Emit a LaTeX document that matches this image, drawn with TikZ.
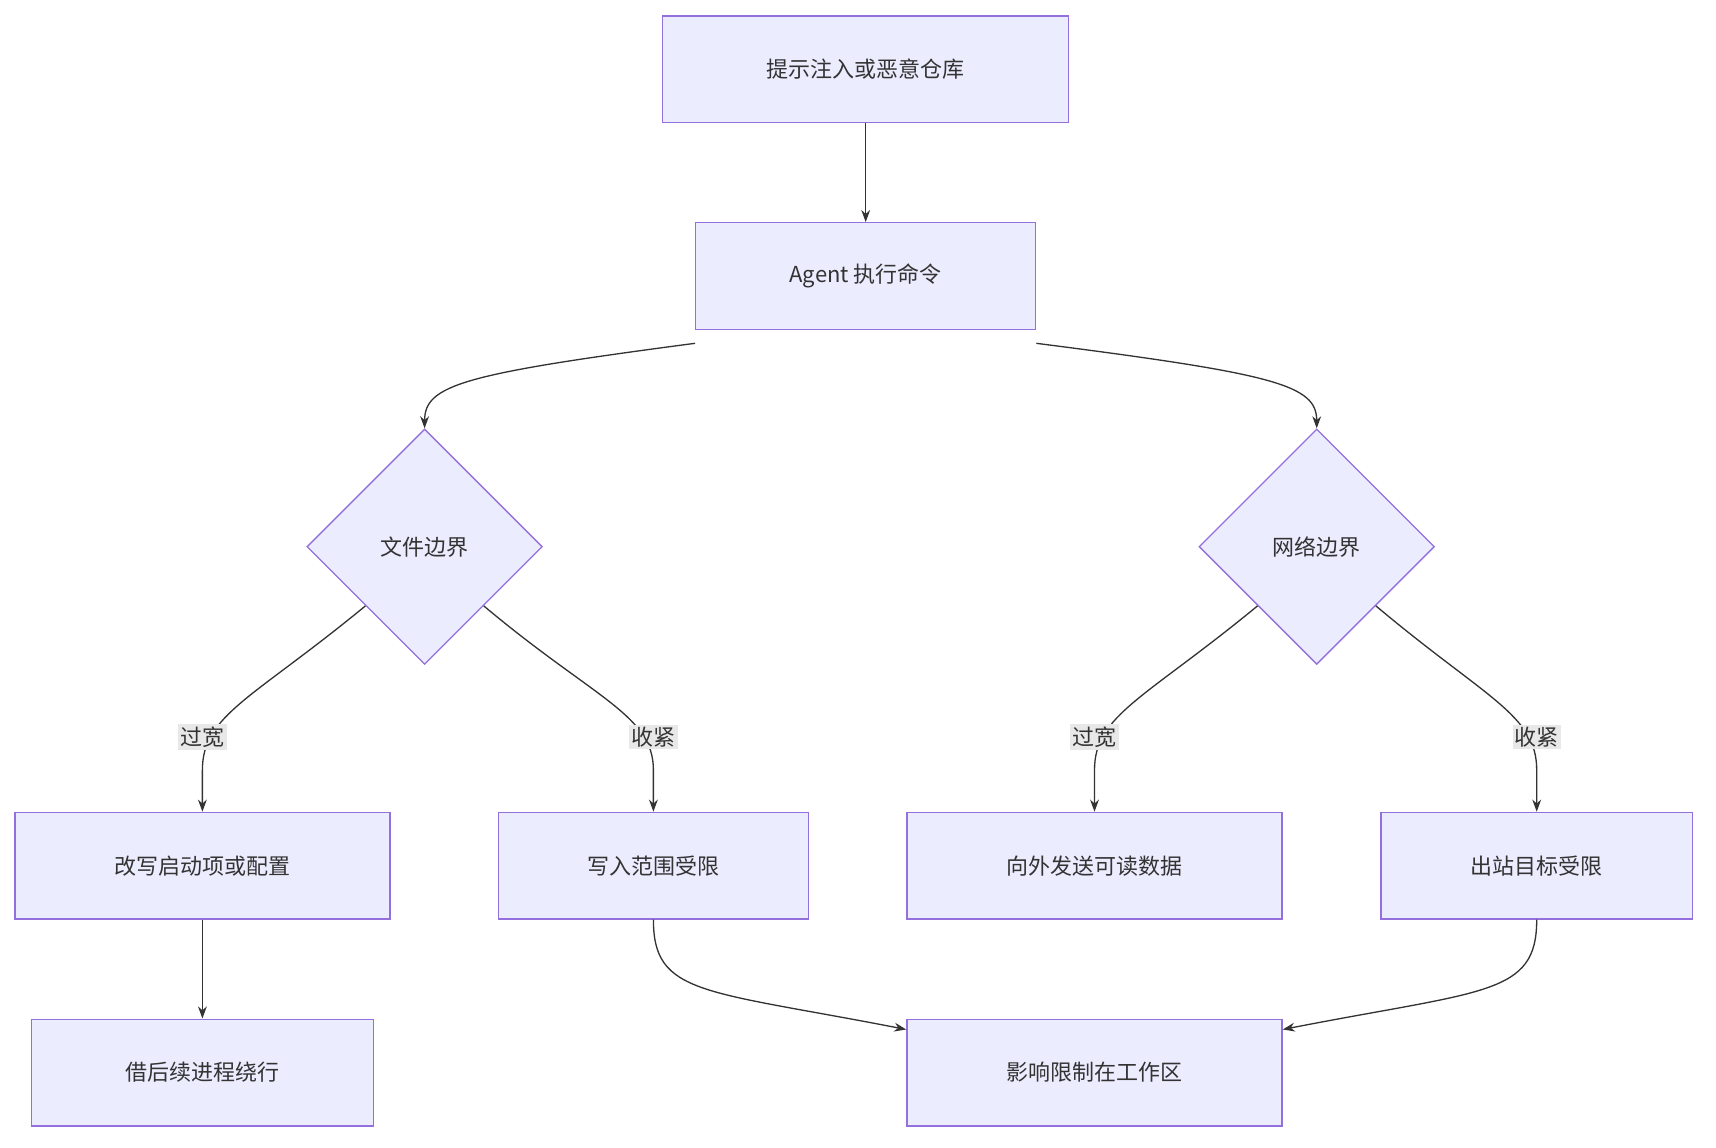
\documentclass[tikz,border=0pt]{standalone}
\usepackage{fontspec}
\setmainfont{Noto Sans CJK SC}
\usetikzlibrary{shapes.geometric,arrows.meta,calc}
\definecolor{boxfill}{HTML}{ECECFF}
\definecolor{boxline}{HTML}{9370DB}
\definecolor{edgeline}{HTML}{333333}
\definecolor{labelbg}{HTML}{E8E8E8}
\begin{document}
\begin{tikzpicture}[x=1pt,y=-1pt,
  every node/.style={font=\fontsize{20}{24}\selectfont,text=edgeline},
  box/.style={draw=boxline,fill=boxfill,line width=1.2pt,minimum height=97pt,inner sep=0pt},
  decide/.style={diamond,draw=boxline,fill=boxfill,line width=1.2pt,minimum width=214pt,minimum height=214pt,inner sep=0pt},
  edgelabel/.style={fill=labelbg,inner sep=2pt},
  arrow/.style={draw=edgeline,line width=1.2pt,-{Stealth[length=11pt,width=8pt]}}
  ]
  \useasboundingbox (0,0) rectangle (1560,1043);
  % nodes
  \node[box,minimum width=369pt] (src) at (787,63) {提示注入或恶意仓库};
  \node[box,minimum width=309pt] (agent) at (787,251) {Agent 执行命令};
  \node[decide] (file) at (386,497) {文件边界};
  \node[decide] (net) at (1197,497) {网络边界};
  \node[box,minimum width=341pt] (rewrite) at (184,787) {改写启动项或配置};
  \node[box,minimum width=282pt] (wlimit) at (594,787) {写入范围受限};
  \node[box,minimum width=341pt] (exfil) at (995,787) {向外发送可读数据};
  \node[box,minimum width=283pt] (olimit) at (1397,787) {出站目标受限};
  \node[box,minimum width=311pt] (bypass) at (184,975) {借后续进程绕行};
  \node[box,minimum width=341pt] (contain) at (995,975) {影响限制在工作区};
  % connectors
  \draw[arrow] (src) -- (agent);
  \draw[arrow] ($(agent.south west)+(0,12)$) .. controls (420,340) and (386,350) .. (file.north);
  \draw[arrow] ($(agent.south east)+(0,12)$) .. controls (1160,340) and (1197,350) .. (net.north);
  \draw[arrow] (file.south west) .. controls (230,635) and (184,650) .. (184,700) -- (rewrite.north);
  \draw[arrow] (file.south east) .. controls (540,635) and (594,650) .. (594,700) -- (wlimit.north);
  \draw[arrow] (net.south west) .. controls (1041,635) and (995,650) .. (995,700) -- (exfil.north);
  \draw[arrow] (net.south east) .. controls (1351,635) and (1397,650) .. (1397,700) -- (olimit.north);
  \draw[arrow] (rewrite) -- (bypass);
  \draw[arrow] (wlimit.south) .. controls (594,905) and (640,900) .. ($(contain.north west)+(0,10)$);
  \draw[arrow] (olimit.south) .. controls (1397,905) and (1350,900) .. ($(contain.north east)+(0,10)$);
  % labels
  \node[edgelabel] (l1) at (184,670) {过宽};
  \node[edgelabel] (l2) at (594,670) {收紧};
  \node[edgelabel] (l3) at (995,670) {过宽};
  \node[edgelabel] (l4) at (1397,670) {收紧};
\end{tikzpicture}
\end{document}
